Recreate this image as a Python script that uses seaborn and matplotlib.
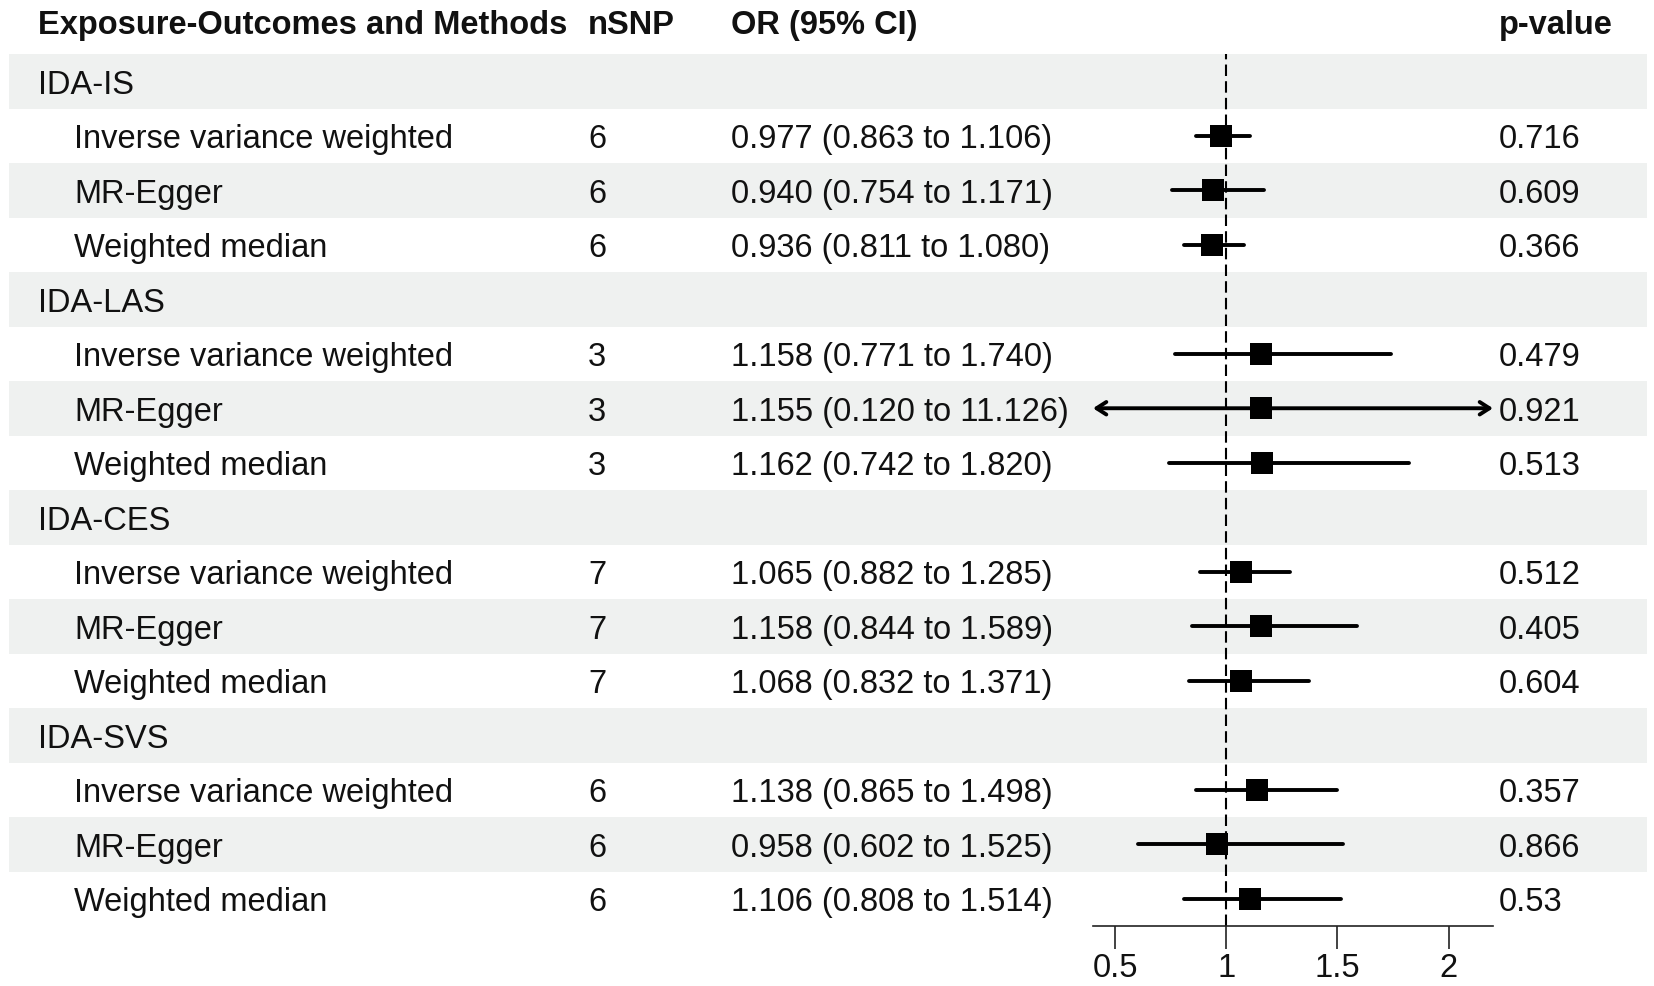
import pandas as pd
import seaborn as sns
import matplotlib.pyplot as plt

# forest plot data
groups = ["IDA-IS", "IDA-LAS", "IDA-CES", "IDA-SVS"]
methods = ["Inverse variance weighted", "MR-Egger", "Weighted median"]
nsnp = [6, 6, 6, 3, 3, 3, 7, 7, 7, 6, 6, 6]
or_est = [0.977, 0.940, 0.936, 1.158, 1.155, 1.162, 1.065, 1.158, 1.068, 1.138, 0.958, 1.106]
ci_low = [0.863, 0.754, 0.811, 0.771, 0.120, 0.742, 0.882, 0.844, 0.832, 0.865, 0.602, 0.808]
ci_high = [1.106, 1.171, 1.080, 1.740, 11.126, 1.820, 1.285, 1.589, 1.371, 1.498, 1.525, 1.514]
p_values = ["0.716", "0.609", "0.366", "0.479", "0.921", "0.513",
            "0.512", "0.405", "0.604", "0.357", "0.866", "0.53"]
x_ticks = [0.5, 1, 1.5, 2]
x_tick_labels = ["0.5", "1", "1.5", "2"]

# build the table: one header row per group followed by its methods
rows = []
k = 0
for g in groups:
    rows.append(dict(label=g, kind="group"))
    for m in methods:
        rows.append(dict(label=m, kind="method", nsnp=nsnp[k], est=or_est[k],
                         lo=ci_low[k], hi=ci_high[k], p=p_values[k]))
        k += 1
df = pd.DataFrame(rows)
df["row"] = range(len(df))
n_rows = len(df)
dat = df[df.kind == "method"]

sns.set_style("white")
plt.rcParams['font.family'] = ['Liberation Sans', 'DejaVu Sans']
plt.rcParams['text.color'] = '#111111'
fs = 23.5

W, H = 1654, 987
top_px, bot_px = 55, 927
fig = plt.figure(figsize=(W / 100, H / 100), dpi=100)

# table background axes (x in pixels, y in rows)
bg = fig.add_axes([0, 1 - bot_px / H, 1, (bot_px - top_px) / H])
bg.set_xlim(0, W)
bg.set_ylim(n_rows - 0.5, -0.5)
bg.axis('off')
for i in range(0, n_rows, 2):
    bg.axhspan(i - 0.5, i + 0.5, xmin=9 / W, xmax=1647 / W, color='#eff1f0', lw=0, zorder=0)

col_label, col_method, col_n, col_or, col_p = 38, 74, 588, 731, 1499
hdr_y = -0.885
for x, t in [(col_label, "Exposure-Outcomes and Methods"), (col_n, "nSNP"),
             (col_or, "OR (95% CI)"), (col_p, "p-value")]:
    bg.text(x, hdr_y, t, fontsize=fs, fontweight='bold', va='baseline', clip_on=False)

for _, r in df.iterrows():
    y = r.row + 0.21
    if r.kind == "group":
        bg.text(col_label, y, r.label, fontsize=fs, va='baseline')
    else:
        bg.text(col_method, y, r.label, fontsize=fs, va='baseline')
        bg.text(col_n, y, str(int(r.nsnp)), fontsize=fs, va='baseline')
        bg.text(col_or, y, f"{r.est:.3f} ({r.lo:.3f} to {r.hi:.3f})", fontsize=fs, va='baseline')
        bg.text(col_p, y, r.p, fontsize=fs, va='baseline')

# forest axes
xmin, xmax = 0.4, 2.2
fa = fig.add_axes([1093 / W, 1 - bot_px / H, 400 / W, (bot_px - top_px) / H])
fa.patch.set_alpha(0)
fa.axvline(1, color='black', lw=1.5, ls=(0, (5.5, 2.5)), zorder=1)

for _, r in dat.iterrows():
    lo, hi = max(r.lo, xmin), min(r.hi, xmax)
    if r.lo < xmin or r.hi > xmax:
        style = '<->' if (r.lo < xmin and r.hi > xmax) else ('->' if r.hi > xmax else '<-')
        fa.annotate('', xy=(hi, r.row), xytext=(lo, r.row),
                    arrowprops=dict(arrowstyle=style + ',head_length=0.7,head_width=0.45',
                                    lw=2.8, color='black', shrinkA=0, shrinkB=0),
                    annotation_clip=False)
    else:
        lc = fa.hlines(r.row, lo, hi, color='black', lw=2.8, zorder=2)
        lc.set_capstyle('round')

sns.scatterplot(data=dat, x='est', y='row', marker='s', s=230, color='black',
                linewidth=0, ax=fa, legend=False, zorder=3)

fa.set_xlim(xmin, xmax)
fa.set_ylim(n_rows - 0.5, -0.5)
fa.set_xlabel('')
fa.set_ylabel('')
fa.set_yticks([])
for s in ['top', 'right', 'left']:
    fa.spines[s].set_visible(False)
fa.spines['bottom'].set_color('#222222')
fa.spines['bottom'].set_linewidth(1.2)
fa.set_xticks(x_ticks)
fa.set_xticklabels(x_tick_labels)
fa.tick_params(axis='x', bottom=True, direction='out', length=16.5, width=1.2,
               color='#222222', labelsize=fs, pad=2, labelcolor='#111111')

fig.savefig("out.png", dpi=100)
